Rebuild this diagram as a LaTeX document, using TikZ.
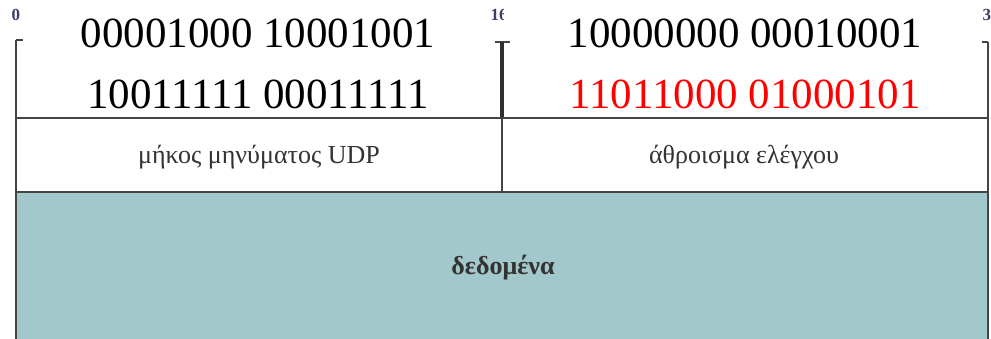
\documentclass[tikz,border=0pt]{standalone}
\usepackage{fontspec}
\setmainfont{Liberation Serif}
\definecolor{rulegray}{HTML}{454545}
\definecolor{datafill}{HTML}{A3C8CB}
\definecolor{labelgray}{HTML}{333333}
\definecolor{bitlabel}{HTML}{3A3F66}
\tikzset{
  rule/.style={draw=rulegray, line width=2pt},
  bigbits/.style={font=\fontsize{43}{50}\selectfont, text=black, inner sep=0pt},
  fieldname/.style={font=\fontsize{26}{30}\selectfont, text=labelgray, inner sep=0pt},
  bitpos/.style={font=\fontsize{17}{20}\selectfont\bfseries, text=bitlabel, inner sep=0pt, anchor=center}
}
\begin{document}
\begin{tikzpicture}[x=1pt,y=-1pt]
  \useasboundingbox (0,0) rectangle (991,339);
  \fill[white] (0,0) rectangle (991,339);

  % bit position marks
  \node[bitpos] (b0) at (16,15) {0};
  \node[bitpos] (b16) at (499,15) {16};
  \node[bitpos] (b31) at (991,15) {31};
  % the word values are set on white boxes over the top row
  \fill[white] (503.5,0) rectangle (983,38);

  % data area
  \fill[datafill] (16,192) rectangle (988,339);

  % frame and field separators
  \coordinate (tl) at (16,40);
  \coordinate (tr) at (988,42);
  \coordinate (tm) at (502,42);
  \coordinate (l1) at (16,118);
  \coordinate (r1) at (988,118);
  \coordinate (m1) at (502,118);
  \coordinate (l2) at (16,192);
  \coordinate (r2) at (988,192);
  \coordinate (m2) at (502,192);
  \coordinate (lb) at (16,339);
  \coordinate (rb) at (988,339);

  \draw[rule] (tl) -- (lb);
  \draw[rule] (tr) -- (rb);
  \draw[rule] (tl) -- ++(7,0);
  \draw[rule] (tr) -- ++(-6,0);
  \draw[rule] (495,42) -- (510,42);
  \draw[draw=rulegray!70!black, line width=3.2pt] (tm) -- (m1);
  \draw[rule] (m1) -- (m2);
  \draw[rule] (l1) -- (r1);
  \draw[rule] (l2) -- (r2);

  % word values
  \node[bigbits] (w1a) at (258,33) {00001000 10001001};
  \node[bigbits] (w1b) at (258,94) {10011111 00011111};
  \node[bigbits] (w2a) at (745,33) {10000000 00010001};
  \node[bigbits, text=red] (w2b) at (745,94) {11011000 01000101};

  % field names
  \node[fieldname] (len) at (259,157) {μήκος μηνύματος UDP};
  \node[fieldname] (sum) at (744,157) {άθροισμα ελέγχου};
  \node[fieldname, font=\fontsize{26}{30}\selectfont\bfseries] (data) at (503,268) {δεδομένα};
\end{tikzpicture}
\end{document}
